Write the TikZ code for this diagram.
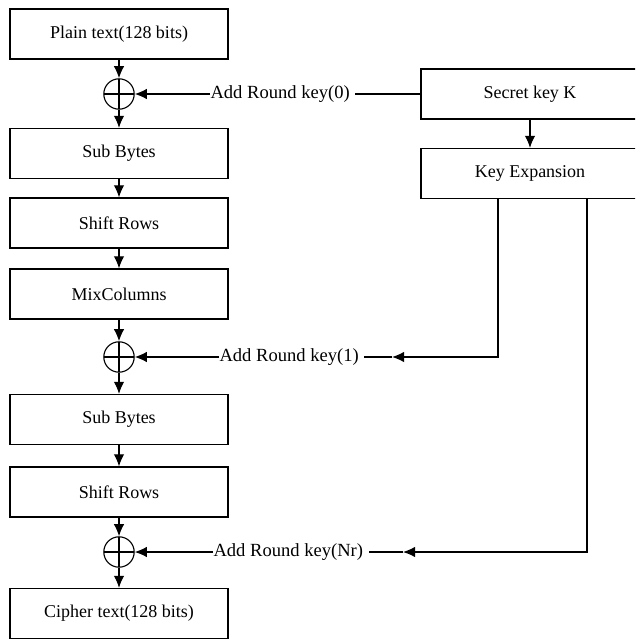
\documentclass[tikz,border=0pt]{standalone}
\usepackage{fontspec}
\setmainfont{Liberation Serif}
\usetikzlibrary{arrows.meta,positioning,calc}

\tikzset{
  stage/.style={draw,line width=0.9pt,minimum width=54.5mm,minimum height=12.5mm,
                font=\fontsize{12.8}{15}\selectfont},
  xorop/.style={draw,circle,line width=0.8pt,minimum size=7.6mm,inner sep=0pt,
                path picture={\draw[line width=0.8pt]
                  (path picture bounding box.north) -- (path picture bounding box.south)
                  (path picture bounding box.west) -- (path picture bounding box.east);}},
  rkey/.style={inner sep=0pt,anchor=west,font=\fontsize{13.2}{15}\selectfont}
}

\begin{document}
\begin{tikzpicture}[x=0.25mm,y=-0.25mm,line width=0.8pt,
                    >={Latex[length=3mm,width=2.6mm]}]
\clip (0,0) rectangle (635,640);
% cipher rounds
\foreach \name/\y/\txt in {pt/34/{Plain text(128 bits)},sb1/153.5/{Sub Bytes},
                           sr1/223/{Shift Rows},mc/294/{MixColumns},
                           sb2/419.5/{Sub Bytes},sr2/492/{Shift Rows},
                           ct/613.5/{Cipher text(128 bits)}}
  \node[stage] (\name) at (119,\y) {\txt};
\foreach \name/\y in {xor0/94,xor1/357,xorn/552}
  \node[xorop] (\name) at (119,\y) {};
% key schedule
\node[stage] (sk) at (530,94) {Secret key K};
\node[stage] (kx) at (530,173.5) {Key Expansion};
\node[rkey] (rk0) at (210,94) {Add Round key(0)};
\node[rkey] (rk1) at (219,357) {Add Round key(1)};
\node[rkey] (rkn) at (213,552) {Add Round key(Nr)};
\coordinate (t1) at (498,357);
\coordinate (tn) at (587,552);
\coordinate (m1) at (392,357);
\coordinate (mn) at (403,552);

\foreach \a/\b in {pt/xor0,xor0/sb1,sb1/sr1,sr1/mc,mc/xor1,
                   xor1/sb2,sb2/sr2,sr2/xorn,xorn/ct}
  \draw[->] (\a) -- (\b);
\draw[->] (sk) -- (kx);
\draw[shorten >=1.25mm] (sk) -- (rk0);
\draw[->] (kx.south -| t1) |- (m1);
\draw[shorten >=1.25mm] (m1) -- (rk1);
\draw[->] (kx.south -| tn) |- (mn);
\draw[shorten >=1.25mm] (mn) -- (rkn);
\foreach \a/\b in {rk0/xor0,rk1/xor1,rkn/xorn}
  \draw[->] (\a) -- (\b);
\end{tikzpicture}
\end{document}
